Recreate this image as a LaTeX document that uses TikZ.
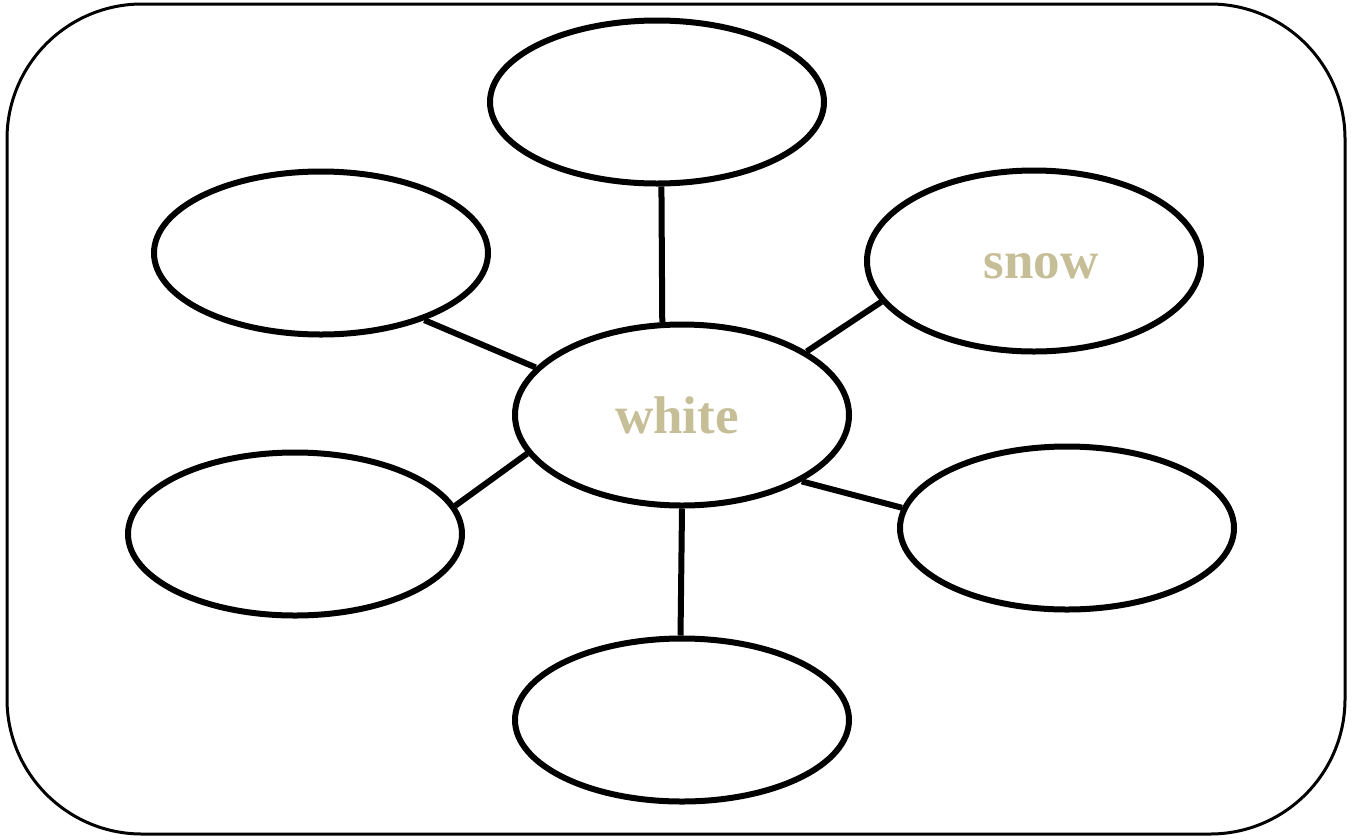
\documentclass[tikz,border=0pt]{standalone}
\usepackage{fontspec}
\setmainfont{Liberation Serif}
\usetikzlibrary{shapes.geometric}
\definecolor{tan}{HTML}{C5BE97}
\tikzset{
  bubble/.style={draw=black, line width=6pt, ellipse, inner sep=0pt,
    minimum width=334pt, minimum height=163pt,
    font=\fontsize{53}{60}\selectfont\bfseries, text=tan},
  spoke/.style={draw=black, line width=6pt},
}
\begin{document}
\begin{tikzpicture}[x=1pt,y=-1pt]
\useasboundingbox (0,0) rectangle (1356,839);
\draw[line width=3pt, rounded corners=135pt] (7,4) rectangle (1345,834);
\node[bubble] (top) at (657,102) {};
\node[bubble] (ul) at (321,253) {};
\node[bubble, minimum height=181pt] (snow) at (1034,261) {\hspace*{14pt}\raisebox{-5pt}[\height][\depth]{snow}};
\node[bubble, minimum height=181pt] (c) at (682,415) {white\hspace*{10pt}};
\node[bubble] (ll) at (295,534) {};
\node[bubble] (lr) at (1067,528) {};
\node[bubble] (bot) at (682,720) {};
\draw[spoke] (top.-87.3) -- (c.102.7);
\draw[spoke] (ul.-33.4) -- (c.162.8);
\draw[spoke] (c.27.3) -- (snow.-165.6);
\draw[spoke] (ll.10.3) -- (c.194.2);
\draw[spoke] (c.-29.8) -- (lr.173.5);
\draw[spoke] (c.-90.7) -- (bot.91.4);
\end{tikzpicture}
\end{document}
